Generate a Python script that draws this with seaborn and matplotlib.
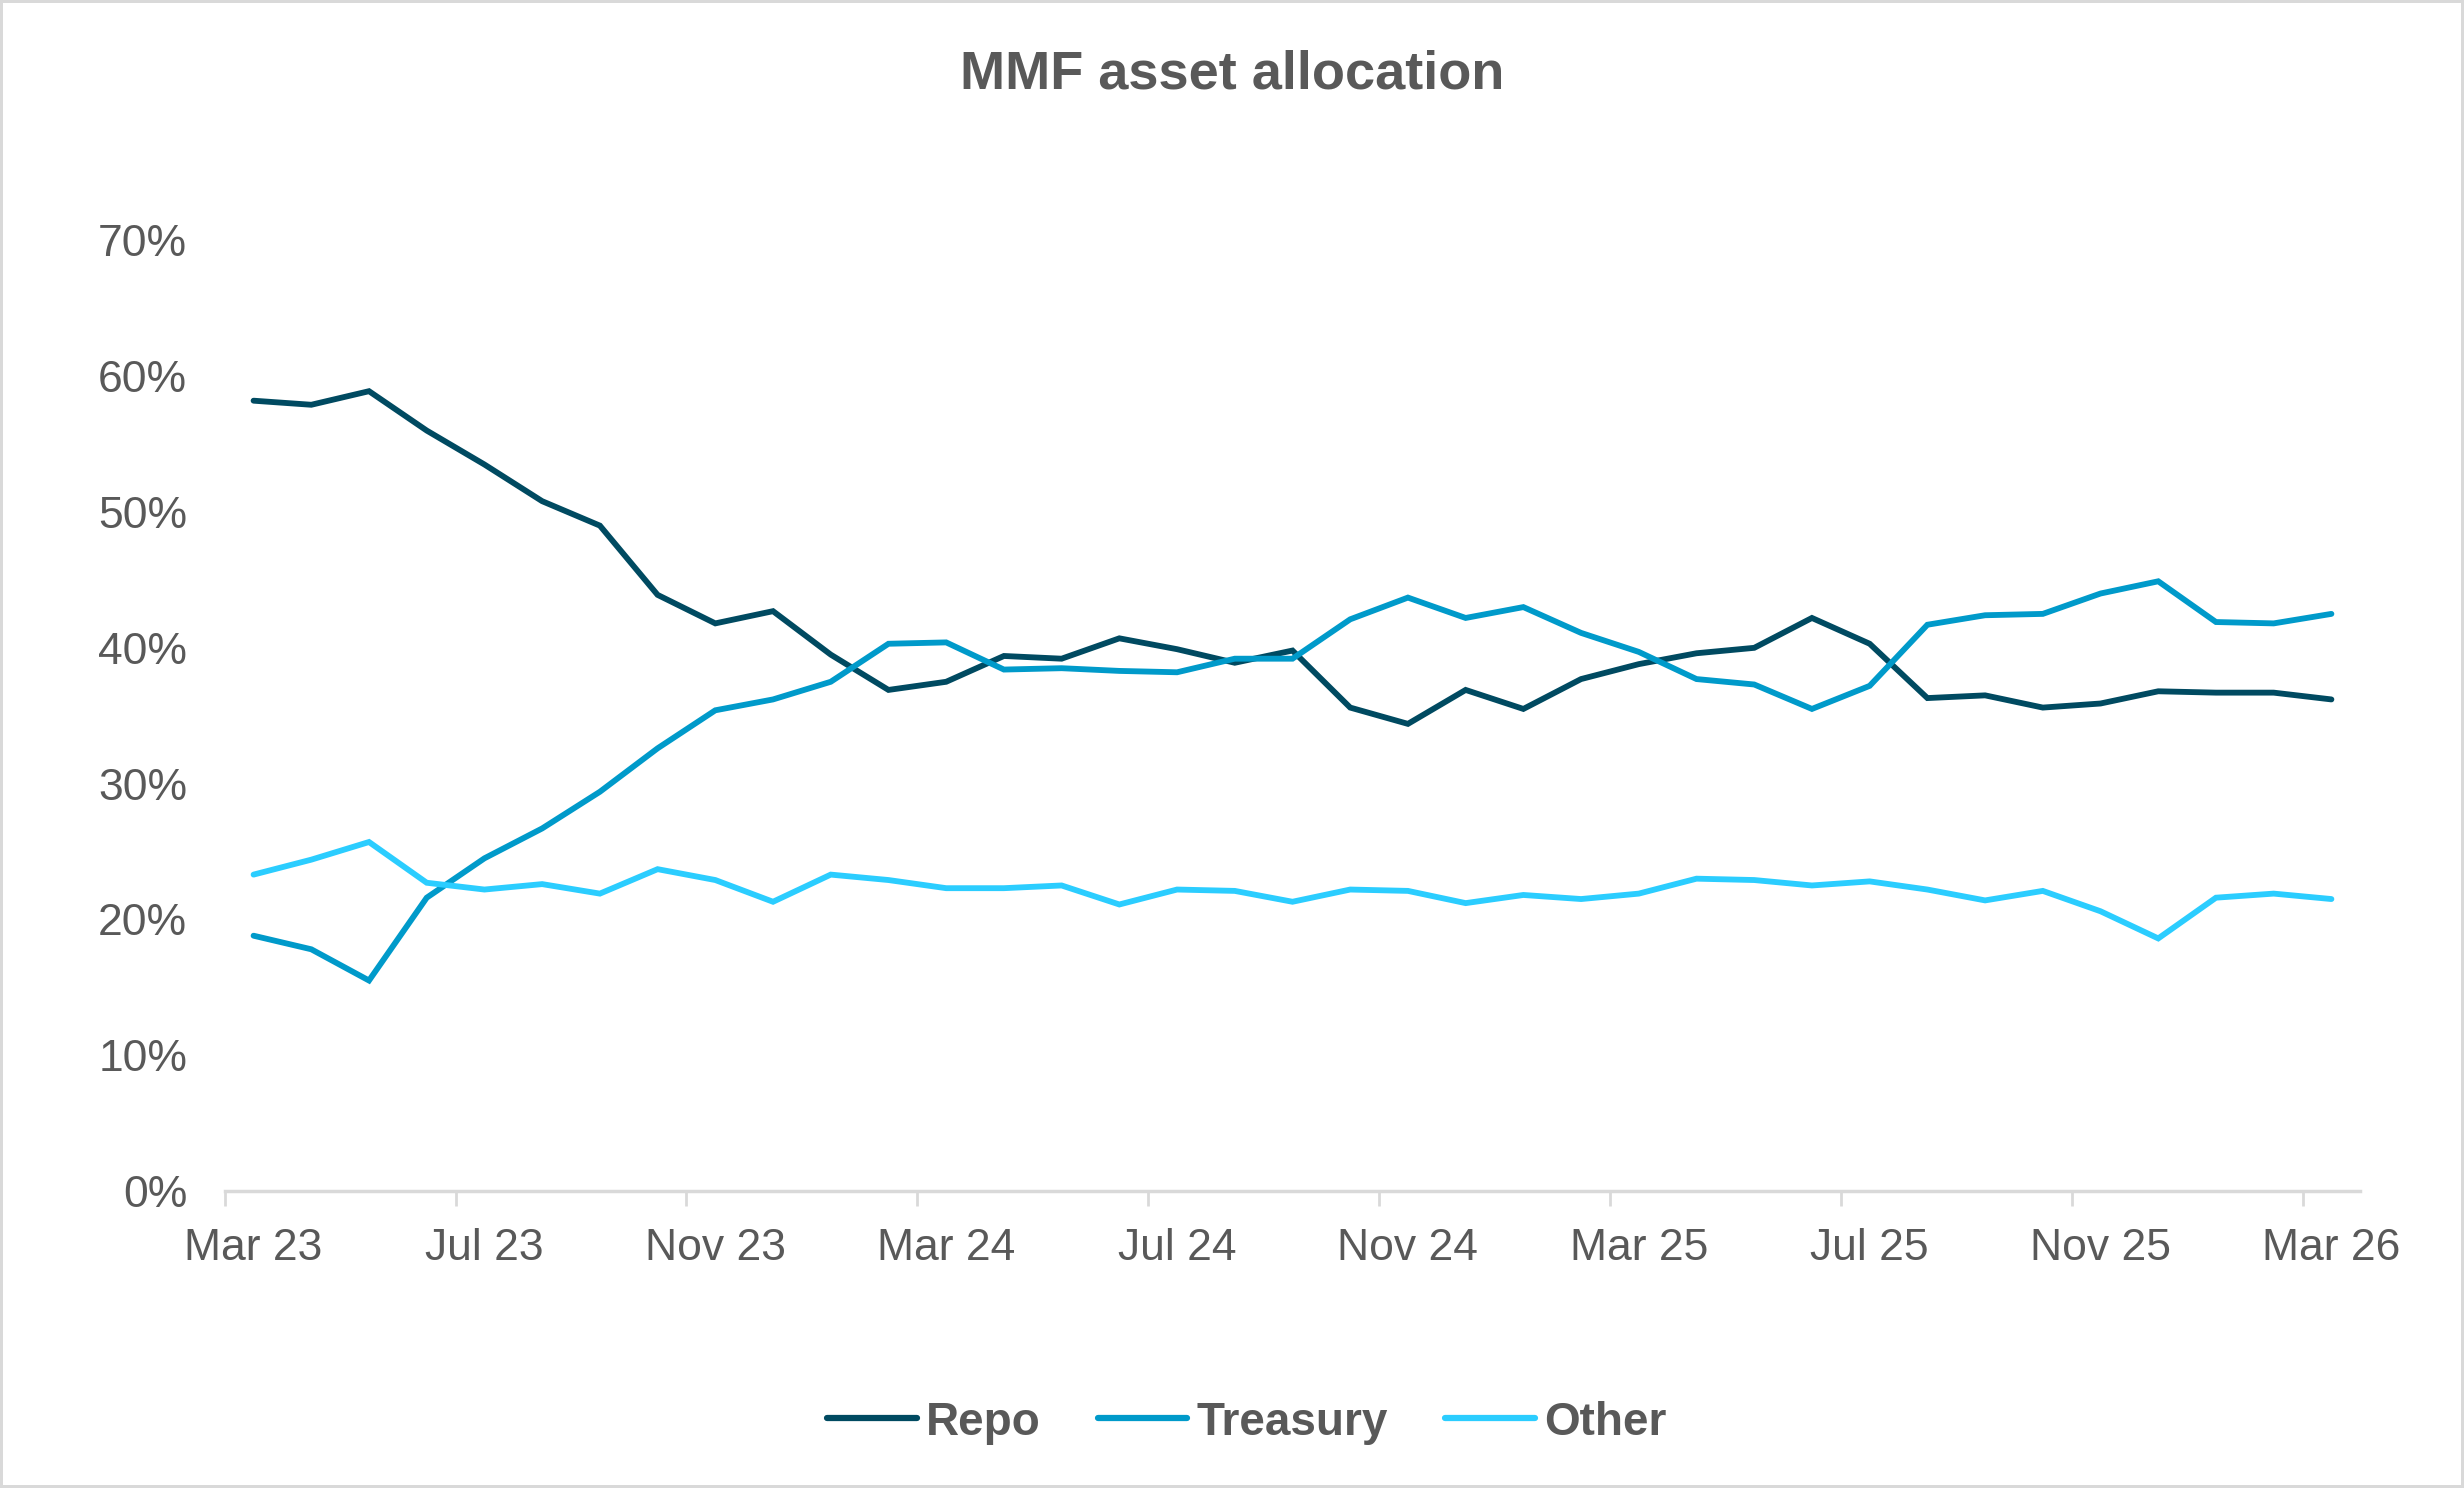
import numpy as np
import pandas as pd
import matplotlib.pyplot as plt
import seaborn as sns
from matplotlib.ticker import FuncFormatter, FixedLocator

# Datos (proporción mensual, Mar 23 - Mar 26)
meses = pd.date_range('2023-03-01', periods=37, freq='MS').strftime('%b %y').tolist()

repo = [58.2, 57.9, 58.9, 56.0, 53.5, 50.8, 49.0, 43.9, 41.8, 42.7, 39.5, 36.9, 37.5,
        39.4, 39.2, 40.7, 39.9, 38.9, 39.8, 35.6, 34.4, 36.9, 35.5, 37.7, 38.8, 39.6,
        40.0, 42.2, 40.3, 36.3, 36.5, 35.6, 35.9, 36.8, 36.7, 36.7, 36.2]
treasury = [18.8, 17.8, 15.5, 21.6, 24.5, 26.7, 29.4, 32.6, 35.4, 36.2, 37.5, 40.3, 40.4,
            38.4, 38.5, 38.3, 38.2, 39.2, 39.2, 42.1, 43.7, 42.2, 43.0, 41.1, 39.7, 37.7,
            37.3, 35.5, 37.2, 41.7, 42.4, 42.5, 44.0, 44.9, 41.9, 41.8, 42.5]
other = [23.3, 24.4, 25.7, 22.7, 22.2, 22.6, 21.9, 23.7, 22.9, 21.3, 23.3, 22.9, 22.3,
         22.3, 22.5, 21.1, 22.2, 22.1, 21.3, 22.2, 22.1, 21.2, 21.8, 21.5, 21.9, 23.0,
         22.9, 22.5, 22.8, 22.2, 21.4, 22.1, 20.6, 18.6, 21.6, 21.9, 21.5]

series = ['Repo', 'Treasury', 'Other']
df = pd.DataFrame({'pos': np.arange(len(meses)), 'mes': meses,
                   'Repo': repo, 'Treasury': treasury, 'Other': other})
df = pd.melt(df, id_vars=['pos', 'mes'], value_vars=series, var_name='serie', value_name='valor')
df['valor'] = df['valor'] / 100

# Colores
paleta = ['#004A61', '#009ACA', '#2BCDFF']
gris = '#595959'

sns.set_style('white')
plt.rcParams['font.family'] = ['Liberation Sans', 'DejaVu Sans']

fig = plt.figure(figsize=(24.64, 14.88), dpi=100, edgecolor='#D9D9D9', linewidth=3)
ax = fig.add_axes([0.0912, 0.1996, 0.8667, 0.6388])

sns.lineplot(data=df, x='pos', y='valor', hue='serie', palette=paleta, linewidth=4.2,
             ax=ax, legend=False, solid_capstyle='round', solid_joinstyle='miter')

# Ejes
ax.set_xlim(-0.5, len(meses) - 0.5)
ax.set_ylim(0, 0.7)
ax.set_yticks(np.arange(0, 0.71, 0.1))
ax.yaxis.set_major_formatter(FuncFormatter(lambda v, p: f'{v * 100:.0f}%'))
ax.set_xticks(range(0, len(meses), 4))
ax.set_xticklabels(meses[::4])
ax.xaxis.set_minor_locator(FixedLocator(np.arange(-0.5, len(meses), 4)))
ax.tick_params(axis='x', which='major', length=0, pad=27, labelsize=32, labelcolor=gris)
ax.tick_params(axis='x', which='minor', length=11, width=2, color='#D9D9D9', bottom=True)
ax.tick_params(axis='y', length=0, pad=27, labelsize=32, labelcolor=gris)
ax.set_xlabel('')
ax.set_ylabel('')

for lado in ['top', 'right', 'left']:
    ax.spines[lado].set_visible(False)
ax.spines['bottom'].set_color('#D9D9D9')
ax.spines['bottom'].set_linewidth(2.5)

# Titulo
fig.text(0.5, 0.950, 'MMF asset allocation', ha='center', va='center',
         fontsize=39, fontweight='bold', color=gris)

# Leyenda
handles = [plt.Line2D([], [], color=c, linewidth=4.5, solid_capstyle='round') for c in paleta]
leg = fig.legend(handles, series, loc='center', bbox_to_anchor=(0.506, 0.044), ncol=3,
                 frameon=False, handlelength=1.95, handletextpad=0.2, columnspacing=1.25,
                 prop={'size': 33, 'weight': 'bold'})
for t in leg.get_texts():
    t.set_color(gris)

fig.savefig('out.png', dpi=100, edgecolor=fig.get_edgecolor())
